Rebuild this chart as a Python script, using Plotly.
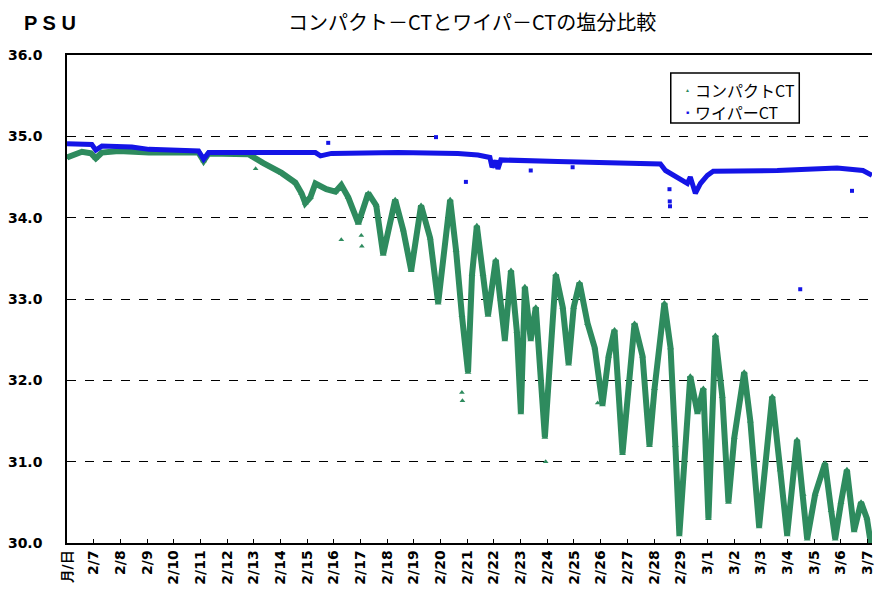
import plotly.graph_objects as go

# ---- tick labels (day index 0 = 2/6, shown as the header "月/日") ----
tick_labels = ["月/日", "2/7", "2/8", "2/9", "2/10", "2/11", "2/12", "2/13", "2/14",
               "2/15", "2/16", "2/17", "2/18", "2/19", "2/20", "2/21", "2/22", "2/23",
               "2/24", "2/25", "2/26", "2/27", "2/28", "2/29", "3/1", "3/2", "3/3",
               "3/4", "3/5", "3/6", "3/7"]
y_ticks = [30, 31, 32, 33, 34, 35, 36]

# ---- コンパクトCT (green) : day offset from 2/6, salinity PSU ----
compact_day = [0.00, 0.56, 0.90, 1.08, 1.31, 1.94, 3.07, 4.93, 5.12, 5.31, 6.80, 6.99,
               7.36, 8.04, 8.56, 8.79, 8.93, 9.12, 9.31, 9.72, 10.06, 10.28, 10.54,
               10.92, 11.29, 11.59, 11.85, 12.30, 12.60, 12.90, 13.27, 13.61, 13.91,
               14.36, 14.58, 14.80, 15.03, 15.18, 15.36, 15.59, 15.78, 16.07, 16.26,
               16.41, 16.64, 16.86, 17.01, 17.16, 17.38, 17.57, 17.91, 18.32, 18.58,
               18.80, 18.99, 19.21, 19.51, 19.78, 20.07, 20.30, 20.52, 20.82, 21.27,
               21.57, 21.83, 22.02, 22.39, 22.62, 22.80, 22.95, 23.36, 23.63, 23.85,
               24.04, 24.30, 24.56, 24.79, 25.01, 25.38, 25.61, 25.94, 26.43, 26.73,
               26.99, 27.36, 27.59, 27.74, 28.04, 28.41, 28.64, 28.79, 29.01, 29.23,
               29.50, 29.76, 29.98, 30.17]
compact_psu = [34.74, 34.81, 34.79, 34.73, 34.80, 34.82, 34.80, 34.80, 34.70, 34.79,
               34.78, 34.74, 34.67, 34.55, 34.43, 34.30, 34.18, 34.25, 34.42, 34.35,
               34.32, 34.40, 34.25, 33.93, 34.30, 34.15, 33.55, 34.22, 33.85, 33.35,
               34.15, 33.75, 32.95, 34.22, 33.60, 32.80, 32.10, 33.30, 33.90, 33.30,
               32.80, 33.48, 33.00, 32.50, 33.35, 32.60, 31.60, 33.15, 32.50, 32.90,
               31.30, 33.30, 32.90, 32.20, 32.90, 33.20, 32.70, 32.40, 31.70, 32.30,
               32.62, 31.10, 32.70, 32.30, 31.20, 31.90, 32.95, 32.40, 31.20, 30.10,
               32.05, 31.60, 31.90, 30.30, 32.55, 31.80, 30.50, 31.30, 32.10, 31.50,
               30.20, 31.80, 30.90, 30.10, 31.27, 30.60, 30.05, 30.60, 30.98, 30.40,
               30.05, 30.50, 30.90, 30.15, 30.50, 30.30, 29.90]
compact_out_day = [7.07, 10.28, 11.03, 11.05, 14.80, 14.82, 17.94, 19.89]
compact_out_psu = [34.60, 33.73, 33.78, 33.65, 31.85, 31.75, 31.00, 31.72]

# ---- ワイパーCT (blue) ----
wiper_day = [0.00, 0.93, 1.08, 1.31, 2.43, 3.07, 4.93, 5.12, 5.31, 9.31, 9.50, 9.91,
             12.41, 14.65, 15.40, 15.85, 15.93, 16.07, 16.15, 16.26, 18.39, 20.64,
             22.24, 22.43, 22.77, 22.99, 23.25, 23.36, 23.55, 23.74, 24.00, 24.22,
             26.62, 28.86, 29.83, 30.17]
wiper_psu = [34.91, 34.90, 34.83, 34.88, 34.87, 34.84, 34.82, 34.72, 34.80, 34.80,
             34.76, 34.79, 34.80, 34.79, 34.77, 34.74, 34.62, 34.70, 34.60, 34.71,
             34.69, 34.67, 34.66, 34.58, 34.52, 34.48, 34.42, 34.50, 34.30, 34.42,
             34.52, 34.57, 34.58, 34.61, 34.58, 34.52]
wiper_out_day = [9.79, 13.83, 14.95, 17.38, 18.95, 22.58, 22.59, 22.60, 29.42, 27.48]
wiper_out_psu = [34.92, 34.99, 34.44, 34.58, 34.62, 34.35, 34.20, 34.14, 34.33, 33.12]

GREEN = "#2e8b5e"
BLUE = "#1414e6"

fig = go.Figure()
fig.add_trace(go.Scatter(x=compact_day, y=compact_psu, mode="lines+markers",
                         line=dict(color=GREEN, width=6),
                         marker=dict(symbol="triangle-up", size=6, color=GREEN),
                         showlegend=False, hoverinfo="skip"))
fig.add_trace(go.Scatter(x=compact_out_day, y=compact_out_psu, mode="markers",
                         marker=dict(symbol="triangle-up", size=5, color=GREEN),
                         showlegend=False, hoverinfo="skip"))
fig.add_trace(go.Scatter(x=wiper_day, y=wiper_psu, mode="lines",
                         line=dict(color=BLUE, width=5),
                         showlegend=False, hoverinfo="skip"))
fig.add_trace(go.Scatter(x=wiper_out_day, y=wiper_out_psu, mode="markers",
                         marker=dict(symbol="square", size=4, color=BLUE),
                         showlegend=False, hoverinfo="skip"))

W, H = 875, 600
L, R, T, B = 67, 0, 55, 57
pw, ph = W - L - R, H - T - B

def px(x):  # screen pixel -> paper x
    return (x - L) / pw

def py(y):  # screen pixel -> paper y
    return (H - B - y) / ph

annotations = [
    dict(text="P S U", x=px(22), y=py(23), xref="paper", yref="paper",
         xanchor="left", yanchor="middle", showarrow=False,
         font=dict(family="Liberation Sans, Arial", size=20, color="black", weight="bold")),
    dict(text="コンパクト－CTとワイパ－CTの塩分比較", x=px(474), y=py(22),
         xref="paper", yref="paper", xanchor="center", yanchor="middle", showarrow=False,
         font=dict(family="Noto Sans CJK JP", size=20, color="black")),
    dict(text="▲", x=px(690), y=py(90), xref="paper", yref="paper",
         xanchor="center", yanchor="middle", showarrow=False,
         font=dict(size=5, color=GREEN)),
    dict(text="■", x=px(690), y=py(112), xref="paper", yref="paper",
         xanchor="center", yanchor="middle", showarrow=False,
         font=dict(size=5, color=BLUE)),
    dict(text="コンパクトCT", x=px(695), y=py(90), xref="paper", yref="paper",
         xanchor="left", yanchor="middle", showarrow=False,
         font=dict(family="Noto Sans CJK JP", size=16, color="black")),
    dict(text="ワイパーCT", x=px(695), y=py(112), xref="paper", yref="paper",
         xanchor="left", yanchor="middle", showarrow=False,
         font=dict(family="Noto Sans CJK JP", size=16, color="black")),
]

shapes = [
    dict(type="rect", xref="paper", yref="paper", x0=px(673), x1=px(802),
         y0=py(123), y1=py(73), line=dict(color="black", width=1.5),
         fillcolor="white", layer="above"),
]

fig.update_layout(
    width=W, height=H,
    margin=dict(l=L, r=R, t=T, b=B, pad=0),
    paper_bgcolor="white", plot_bgcolor="white",
    showlegend=False,
    annotations=annotations,
    shapes=shapes,
    xaxis=dict(range=[0, 30.17], tickmode="array",
               tickvals=list(range(len(tick_labels))), ticktext=tick_labels,
               tickangle=-90, ticks="inside", ticklen=4, tickcolor="black",
               ticklabeloverflow="allow",
               showgrid=False, zeroline=False, showline=True, linecolor="black",
               linewidth=1.5, mirror=True,
               tickfont=dict(family="DejaVu Sans", size=14, color="black", weight="bold")),
    yaxis=dict(range=[30, 36], tickmode="array", tickvals=y_ticks,
               ticktext=[f"{v:.1f}" for v in y_ticks],
               showgrid=True, gridcolor="black", gridwidth=1.2, griddash="dash",
               zeroline=False, showline=True, linecolor="black", linewidth=1.5,
               ticks="", ticklabelstandoff=20,
               tickfont=dict(family="DejaVu Sans", size=14, color="black", weight="bold")),
)

# remove the default 8px page margin so the figure fills the window exactly
fig.write_html("out.html", config={"displayModeBar": False},
               post_script="document.body.style.margin='0px';document.body.style.overflow='hidden';")
